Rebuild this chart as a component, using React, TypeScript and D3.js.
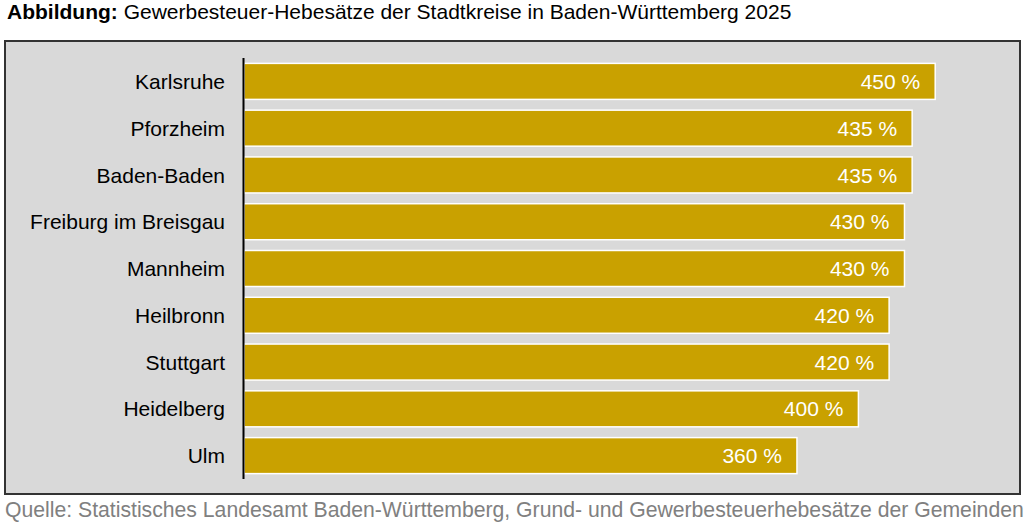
import * as d3 from 'd3';
import { useEffect, useRef } from 'react';

const cities = [
  'Karlsruhe',
  'Pforzheim',
  'Baden-Baden',
  'Freiburg im Breisgau',
  'Mannheim',
  'Heilbronn',
  'Stuttgart',
  'Heidelberg',
  'Ulm',
];
const rates = [450, 435, 435, 430, 430, 420, 420, 400, 360];

const titleBold = 'Abbildung:';
const titleText = ' Gewerbesteuer-Hebesätze der Stadtkreise in Baden-Württemberg 2025';
const source =
  'Quelle: Statistisches Landesamt Baden-Württemberg, Grund- und Gewerbesteuerhebesätze der Gemeinden';

const width = 1024;
const height = 524;
const font = "'Liberation Sans', Arial, sans-serif";

function App() {
  const svgElement = useRef<SVGSVGElement | null>(null);

  useEffect(() => {
    if (!svgElement.current) return;
    const svg = d3.select(svgElement.current);
    svg.selectAll('*').remove();

    // grey frame
    svg
      .append('rect')
      .attr('x', 5)
      .attr('y', 41)
      .attr('width', 1015)
      .attr('height', 453)
      .attr('fill', '#d9d9d9')
      .attr('stroke', '#333333')
      .attr('stroke-width', 2);

    const x = d3.scaleLinear().domain([0, 500]).range([244, 1012]);
    const y = d3
      .scaleBand<string>()
      .domain(cities)
      .range([58, 479])
      .paddingInner(0.23)
      .paddingOuter(0.115);

    const data = cities.map((c, i) => ({ city: c, rate: rates[i] }));

    const chart = svg.append('g');

    chart
      .selectAll('.bar')
      .data(data)
      .join('rect')
      .attr('class', 'bar')
      .attr('x', x(0))
      .attr('y', (d) => y(d.city) as number)
      .attr('width', (d) => x(d.rate) - x(0))
      .attr('height', y.bandwidth())
      .attr('fill', '#c9a100')
      .attr('stroke', '#ffffff')
      .attr('stroke-width', 1.5);

    chart
      .selectAll('.value')
      .data(data)
      .join('text')
      .attr('class', 'value')
      .attr('x', (d) => x(d.rate) - 15)
      .attr('y', (d) => (y(d.city) as number) + y.bandwidth() / 2)
      .attr('dy', '0.36em')
      .attr('text-anchor', 'end')
      .attr('fill', '#ffffff')
      .style('font-family', font)
      .style('font-size', '21px')
      .text((d) => `${d.rate} %`);

    chart
      .selectAll('.label')
      .data(data)
      .join('text')
      .attr('class', 'label')
      .attr('x', 225)
      .attr('y', (d) => (y(d.city) as number) + y.bandwidth() / 2)
      .attr('dy', '0.36em')
      .attr('text-anchor', 'end')
      .attr('fill', '#000000')
      .style('font-family', font)
      .style('font-size', '21px')
      .text((d) => d.city);

    // category axis line
    svg
      .append('line')
      .attr('x1', 243.5)
      .attr('x2', 243.5)
      .attr('y1', y.range()[0])
      .attr('y2', y.range()[1])
      .attr('stroke', '#000000')
      .attr('stroke-width', 2);

    const title = svg
      .append('text')
      .attr('x', 7)
      .attr('y', 19)
      .style('font-family', font)
      .style('font-size', '21px')
      .attr('fill', '#000000');
    title.append('tspan').style('font-weight', 'bold').text(titleBold);
    title.append('tspan').text(titleText);

    svg
      .append('text')
      .attr('x', 5)
      .attr('y', 517)
      .style('font-family', font)
      .style('font-size', '21.2px')
      .attr('fill', '#808080')
      .text(source);
  }, []);

  return (
    <svg
      ref={svgElement}
      width={width}
      height={height}
      style={{ position: 'absolute', left: 0, top: 0, background: '#ffffff' }}
    />
  );
}

export default App;
